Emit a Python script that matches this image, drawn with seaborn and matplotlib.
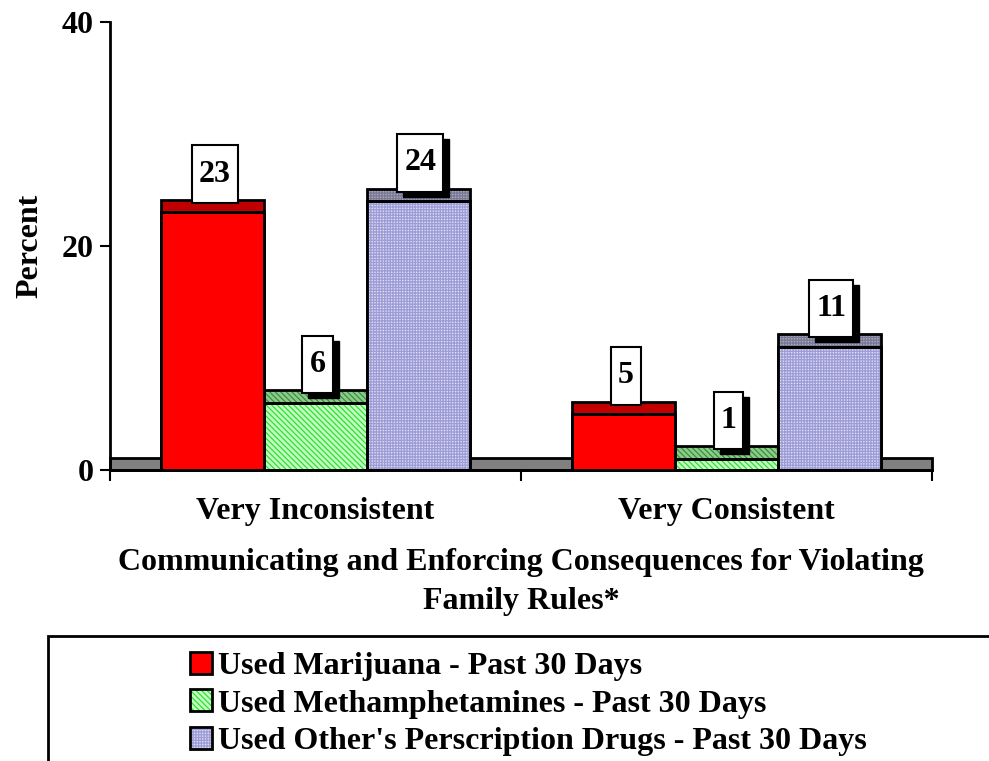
import numpy as np
import pandas as pd
import seaborn as sns
import matplotlib
matplotlib.use("Agg")
import matplotlib.pyplot as plt
from matplotlib.patches import Rectangle, Patch
from matplotlib.path import Path
from matplotlib.transforms import IdentityTransform
from matplotlib.legend_handler import HandlerTuple

# ---------------- data ----------------
groups = ["Very Inconsistent", "Very Consistent"]
series = ["Used Marijuana - Past 30 Days",
          "Used Methamphetamines - Past 30 Days",
          "Used Other's Perscription Drugs - Past 30 Days"]
marijuana = [23, 5]
methamphetamines = [6, 1]
prescription = [24, 11]
y_ticks = [0, 20, 40]
x_title = "Communicating and Enforcing Consequences for Violating\nFamily Rules*"
y_title = "Percent"

# ---------------- style ----------------
face_colors = ["#FF0000", "#C4FFC4", "#DCDCF2"]
hatch_colors = [None, "#2EE02E", "#9C9CD6"]
hatches = [None, "\\\\\\\\\\\\", "++++++"]
cap_faces = ["#C00000", "#8CCB8C", "#A8A8BC"]
cap_hatch_colors = [None, "#3A8F3A", "#7A7A96"]
has_shadow = [False, True, True]
depth = 1.1
FS = 23

sns.set_theme(style="white")
plt.rcParams["font.family"] = ["Liberation Serif", "DejaVu Serif"]
plt.rcParams["font.weight"] = "bold"
plt.rcParams["axes.labelweight"] = "bold"
plt.rcParams["hatch.linewidth"] = 0.9
for k in ["text.color", "axes.labelcolor", "xtick.color", "ytick.color"]:
    plt.rcParams[k] = "black"

df = pd.DataFrame({
    "group": groups * 3,
    "series": [series[0]] * 2 + [series[1]] * 2 + [series[2]] * 2,
    "value": marijuana + methamphetamines + prescription,
})

fig = plt.figure(figsize=(9.89, 7.61), dpi=100)
ax = fig.add_axes([110 / 989, 1 - 470 / 761, (932 - 110) / 989, (470 - 22) / 761])

sns.barplot(data=df, x="group", y="value", hue="series", order=groups,
            hue_order=series, palette=dict(zip(series, face_colors)),
            width=0.75, gap=0, saturation=1, edgecolor="black", linewidth=2,
            errorbar=None, legend=False, ax=ax, zorder=2)

ax.set_xlim(-0.5, 1.5)
ax.set_ylim(0, 40)

# floor band
ax.add_patch(Rectangle((-0.5, 0), 2.0, depth, facecolor="#808080",
                       edgecolor="black", lw=2, zorder=1, clip_on=False))


def tallbox(x0, y0, width, height, mutation_size):
    px = 0.22 * mutation_size
    py = 0.45 * mutation_size
    x0 -= px
    y0 -= py
    x1 = x0 + width + 2 * px
    y1 = y0 + height + 2 * py
    return Path([(x0, y0), (x1, y0), (x1, y1), (x0, y1), (x0, y0)], closed=True)


labels = []
bar_containers = list(ax.containers)
for i, cont in enumerate(bar_containers):
    for p in cont.patches:
        x, w, h = p.get_x(), p.get_width(), p.get_height()
        # hatch texture on the front face
        if hatches[i]:
            ax.bar(x, h, width=w, align="edge", color="none",
                   edgecolor=hatch_colors[i], hatch=hatches[i], linewidth=0,
                   zorder=2.1)
        ax.bar(x, h, width=w, align="edge", fill=False, edgecolor="black",
               linewidth=2, zorder=2.2)
        # top cap (3D depth)
        ax.bar(x, depth, bottom=h, width=w, align="edge", color=cap_faces[i],
               linewidth=0, zorder=2)
        if hatches[i]:
            ax.bar(x, depth, bottom=h, width=w, align="edge", color="none",
                   edgecolor=cap_hatch_colors[i], hatch=hatches[i],
                   linewidth=0, zorder=2.1)
        ax.bar(x, depth, bottom=h, width=w, align="edge", fill=False,
               edgecolor="black", linewidth=2, zorder=2.2)
        # value label boxes
        xc = x + w / 2
        ann = ax.annotate(f"{h:g}", xy=(xc, h + depth), xytext=(2, 26),
                          textcoords="offset pixels", ha="center", va="center",
                          fontsize=FS, fontweight="bold", color="black",
                          bbox=dict(boxstyle=tallbox, fc="white", ec="black", lw=1.5),
                          zorder=6, annotation_clip=False)
        labels.append((ann, has_shadow[i]))

# axes styling
for s in ["top", "right"]:
    ax.spines[s].set_visible(False)
for s in ["left", "bottom"]:
    ax.spines[s].set_linewidth(2)
    ax.spines[s].set_color("black")
    ax.spines[s].set_zorder(3)

ax.set_yticks(y_ticks)
ax.set_yticklabels([str(t) for t in y_ticks], fontsize=FS, fontweight="bold")
ax.tick_params(axis="y", direction="out", length=7, width=1.5, pad=5,
               colors="black", left=True)
ax.set_xticks([0, 1])
ax.set_xticklabels(groups, fontsize=FS, fontweight="bold")
ax.set_xticks([-0.5, 0.5, 1.5], minor=True)
ax.tick_params(axis="x", which="major", length=0, pad=19.5, colors="black")
ax.tick_params(axis="x", which="minor", direction="out", length=8, width=1.5,
               bottom=True, colors="black")

ax.set_xlabel(x_title, fontsize=FS, fontweight="bold", labelpad=16,
              linespacing=1.42, color="black")
ax.set_ylabel(y_title, fontsize=FS, fontweight="bold", labelpad=12,
              color="black")

# legend
handles = []
for i in range(3):
    parts = [Patch(facecolor=face_colors[i], linewidth=0)]
    if hatches[i]:
        parts.append(Patch(facecolor="none", edgecolor=hatch_colors[i],
                           hatch=hatches[i], linewidth=0))
    parts.append(Patch(fill=False, edgecolor="black", linewidth=2))
    handles.append(tuple(parts))

fig.legend(handles, series, loc="upper left",
           bbox_to_anchor=(190 / 989, 1 - 652 / 761), frameon=False,
           borderpad=0, borderaxespad=0, handlelength=0.69, handleheight=0.69,
           handletextpad=0.19, labelspacing=0.25,
           prop=dict(size=FS, weight="bold"),
           handler_map={tuple: HandlerTuple(ndivide=1, pad=0)})

fig.add_artist(Rectangle((48 / 989, -0.05), 1.0, (761 - 636) / 761 + 0.05,
                         transform=fig.transFigure, fill=False,
                         edgecolor="black", lw=2, clip_on=False))

# drop shadows for label boxes (pixel space, behind the white boxes)
fig.canvas.draw()
renderer = fig.canvas.get_renderer()
for ann, shadow in labels:
    if not shadow:
        continue
    bb = ann.get_bbox_patch().get_window_extent(renderer)
    sh = Rectangle((bb.x0 + 6, bb.y0 - 5), bb.width, bb.height,
                   transform=IdentityTransform(), facecolor="black",
                   edgecolor="black", lw=1, zorder=5, clip_on=False)
    ax.add_artist(sh)

fig.savefig("out.png", dpi=100, facecolor="white")
